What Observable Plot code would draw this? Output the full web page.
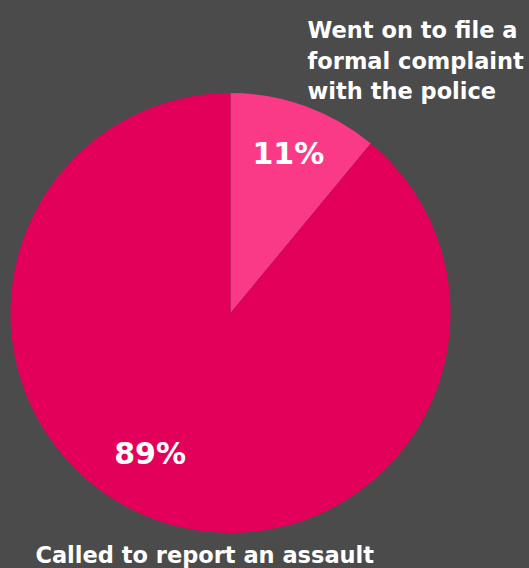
<!DOCTYPE html>
<html>
<head>
<meta charset="utf-8">
<script src="https://cdn.jsdelivr.net/npm/d3@7"></script>
<script src="https://cdn.jsdelivr.net/npm/@observablehq/plot@0.6"></script>
<style>
  html, body { margin: 0; padding: 0; background: #4b4b4b; }
  #chart svg { display: block; }
</style>
</head>
<body>
<div id="chart"></div>
<script>
const categories = ["Went on to file a\nformal complaint\nwith the police", "Called to report an assault"];
const shares = [11, 89];
const pctLabels = ["11%", "89%"];
const colors = ["#fb3a87", "#e2005a"];

const data = categories.map((c, i) => ({category: c, share: shares[i], label: pctLabels[i]}));
const arcs = d3.pie().sort(null).value(d => d.share)(data);

// label placement (pie units, y up)
const angleNudge = [0, 10 * Math.PI / 180];
const pctPos = arcs.map((a, i) => {
  const ang = (a.startAngle + a.endAngle) / 2 + angleNudge[i];
  const r = i === 0 ? 0.77 : 0.74;
  return {x: r * Math.sin(ang), y: r * Math.cos(ang), label: a.data.label};
});
const catPos = [
  {x: 0.348, y: 1.35, text: categories[0], anchor: "top"},
  {x: -0.889, y: -1.132, text: categories[1], anchor: "bottom"}
];

function pieMark(index, scales) {
  const {x, y} = scales;
  const cx = x(0), cy = y(0), r = x(1) - x(0);
  const g = d3.create("svg:g").attr("transform", `translate(${cx},${cy})`);
  g.selectAll("path").data(arcs).join("path")
    .attr("d", d3.arc().innerRadius(0).outerRadius(r))
    .attr("fill", (d, i) => colors[i]);
  return g.node();
}

const chart = Plot.plot({
  width: 529,
  height: 568,
  margin: 0,
  style: {background: "#4b4b4b", fontFamily: "DejaVu Sans"},
  x: {domain: [-1, 1], range: [10.5, 450.5], axis: null},
  y: {domain: [-1, 1], range: [533, 93], axis: null},
  marks: [
    pieMark,
    Plot.text(pctPos, {x: "x", y: "y", text: "label", fill: "white", fontSize: 30, fontWeight: "bold", textAnchor: "middle", lineAnchor: "middle"}),
    Plot.text([catPos[0]], {x: "x", y: "y", text: "text", fill: "white", fontSize: 22.5, fontWeight: "bold", textAnchor: "start", lineAnchor: "top", lineHeight: 1.36}),
    Plot.text([catPos[1]], {x: "x", y: "y", text: "text", fill: "white", fontSize: 22.5, fontWeight: "bold", textAnchor: "start", lineAnchor: "bottom"})
  ]
});
document.getElementById("chart").appendChild(chart);
</script>
</body>
</html>
